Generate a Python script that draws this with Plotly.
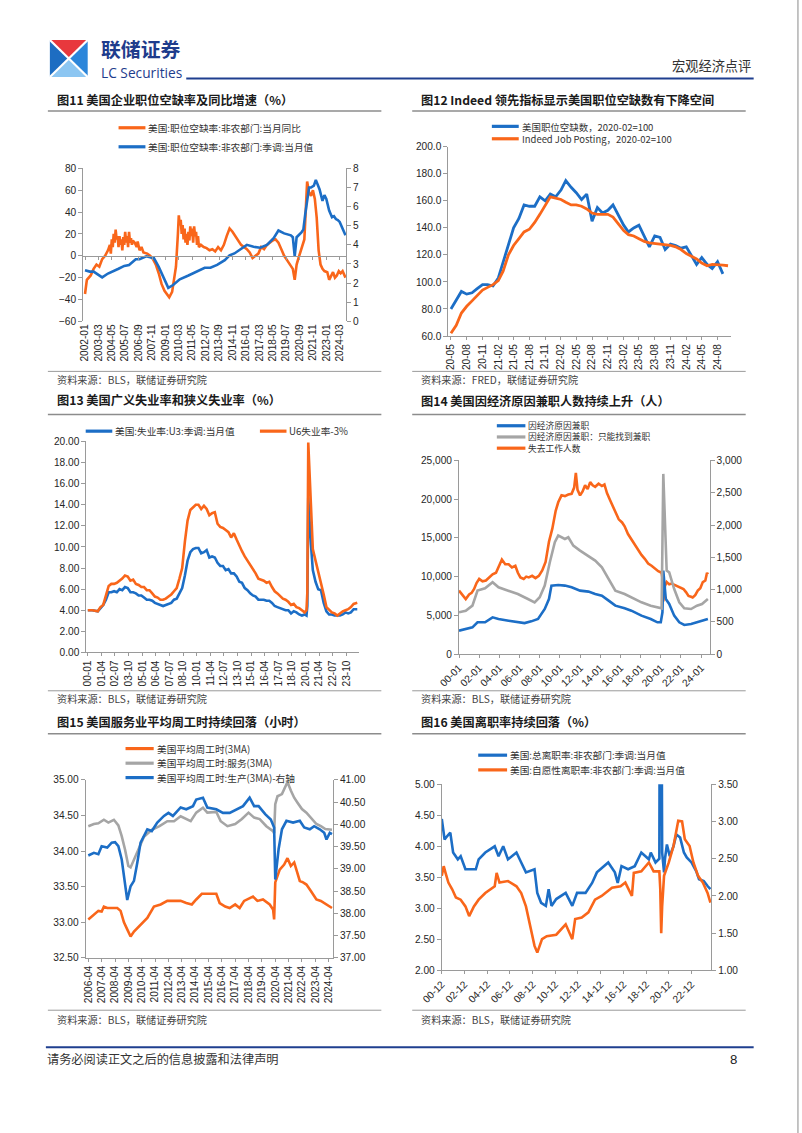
import plotly.graph_objects as go

W, H = 802, 1133
# The rendered page is photographed with a small fixed offset/scale; positions below are
# given in reference-picture pixels and mapped back through that measured transform.
SX, OX = 0.977, 20.0
SY, OY = 0.989, 5.1
FS = 1 / 0.983
def px(x): return ((x - OX) / SX) / W
def py(y): return 1 - ((y - OY) / SY) / H

BLUE = "#1C6EC6"; ORANGE = "#F9661A"; GRAY = "#A5A5A5"
AX = "#9A9A9A"; TXT = "#262626"
NUM = "Liberation Sans, Arial, sans-serif"
CJK = "Noto Sans CJK SC, sans-serif"

# ---------------- 图11 data ----------------
c1_ticks = ["2002-01","2003-03","2004-05","2005-07","2006-09","2007-11","2009-01","2010-03","2011-05","2012-07",
            "2013-09","2014-11","2016-01","2017-03","2018-05","2019-07","2020-09","2021-11","2023-01","2024-03"]
c1o_dates = [
 "2002-01","2002-03","2002-07","2002-10",
 "2003-01","2003-04","2003-07","2003-10",
 "2004-01","2004-03","2004-04","2004-05","2004-06","2004-07","2004-08","2004-09","2004-10","2004-11","2004-12",
 "2005-01","2005-02","2005-03","2005-04","2005-05","2005-06","2005-07","2005-08","2005-09","2005-10","2005-11","2005-12",
 "2006-01","2006-02","2006-03","2006-05","2006-07","2006-08","2006-10","2006-12",
 "2007-02","2007-06","2007-09","2007-12",
 "2008-03","2008-06","2008-09","2008-12",
 "2009-03","2009-05","2009-08","2009-10","2009-12",
 "2010-02","2010-03","2010-04","2010-05","2010-06","2010-07","2010-08","2010-09","2010-10","2010-11","2010-12",
 "2011-01","2011-02","2011-03","2011-04","2011-05","2011-06","2011-07","2011-08","2011-09","2011-10","2011-11","2011-12",
 "2012-02","2012-05","2012-08","2012-11",
 "2013-02","2013-05","2013-08","2013-11",
 "2014-02","2014-05","2014-08","2014-11",
 "2015-02","2015-05","2015-08","2015-11",
 "2016-02","2016-05","2016-08","2016-11",
 "2017-02","2017-05","2017-08","2017-11",
 "2018-02","2018-05","2018-08","2018-11",
 "2019-02","2019-05","2019-08","2019-11",
 "2020-02","2020-04","2020-06","2020-08","2020-10","2020-12",
 "2021-02","2021-04","2021-05","2021-07","2021-09","2021-11",
 "2022-01","2022-03","2022-05","2022-07","2022-09","2022-11",
 "2023-02","2023-04","2023-06","2023-08","2023-10","2023-12",
 "2024-02","2024-04","2024-06","2024-08","2024-09"]
c1o_vals = [
 -35,-22,-18,-12,
 -8,-10,-3,0,
 5,10,2,15,8,20,12,24,15,18,8,
 18,10,15,5,17,10,22,12,18,8,22,12,
 16,10,14,12,8,13,5,8,
 3,2,0,-3,
 -8,-16,-26,-32,
 -36,-38,-33,-22,-10,
 20,37,28,33,20,28,15,25,12,20,10,
 22,14,27,18,25,12,27,18,22,10,18,8,
 10,8,7,5,
 6,4,8,5,
 10,18,25,22,
 18,14,10,8,
 6,3,-2,0,
 2,8,6,10,
 12,14,15,12,
 6,0,-4,-8,
 -12,-22,-8,-2,4,8,
 15,50,68,58,55,60,
 52,35,5,-8,-12,-14,
 -15,-22,-18,-15,-20,-18,
 -14,-16,-14,-18,-20]
c1b_dates = [
 "2002-01","2002-06","2002-10","2003-03","2003-07","2004-01","2004-06","2004-12",
 "2005-06","2005-11","2006-06","2006-10","2007-05","2008-01","2008-06","2008-11",
 "2009-04","2009-09","2010-04","2011-01","2011-10","2012-06","2012-12","2013-07",
 "2014-03","2014-08","2015-01","2015-08","2016-02","2016-09","2017-04","2017-11",
 "2018-06","2018-11","2019-05","2019-12","2020-02","2020-04","2020-06","2020-11",
 "2021-01","2021-03","2021-05","2021-07","2021-09","2021-12",
 "2022-02","2022-04","2022-06","2022-09","2022-11",
 "2023-01","2023-04","2023-07","2023-09","2023-11",
 "2024-01","2024-03","2024-06","2024-08","2024-09"]
c1b_vals = [
 2.67,2.6,2.6,2.45,2.3,2.5,2.6,2.75,
 2.9,2.95,3.25,3.25,3.4,3.3,2.85,2.3,
 1.75,1.9,2.2,2.4,2.6,2.8,2.8,2.95,
 3.2,3.45,3.55,3.8,4.0,3.9,3.85,4.0,
 4.35,4.75,4.6,4.5,4.4,3.4,4.4,4.65,
 4.8,5.6,6.4,7.0,7.0,7.1,
 7.4,7.1,6.9,6.3,6.6,
 6.4,5.8,5.45,5.5,5.35,
 5.3,5.2,4.8,4.6,4.5]

# ---------------- 图12 data ----------------
c2_ticks = ["2020-05","2020-08","2020-11","2021-02","2021-05","2021-08","2021-11","2022-02","2022-05",
            "2022-08","2022-11","2023-02","2023-05","2023-08","2023-11","2024-02","2024-05","2024-08"]
c2_months = [
 "2020-05","2020-06","2020-07","2020-08","2020-09","2020-10","2020-11","2020-12",
 "2021-01","2021-02","2021-03","2021-04","2021-05","2021-06","2021-07","2021-08","2021-09","2021-10","2021-11","2021-12",
 "2022-01","2022-02","2022-03","2022-04","2022-05","2022-06","2022-07","2022-08","2022-09","2022-10","2022-11","2022-12",
 "2023-01","2023-02","2023-03","2023-04","2023-05","2023-06","2023-07","2023-08","2023-09","2023-10","2023-11","2023-12",
 "2024-01","2024-02","2024-03","2024-04","2024-05","2024-06","2024-07","2024-08","2024-09","2024-10"]
c2_openings = [
 80,87,93,91,92,95,98,98,
 97,103,115,128,140,147,157,156,156,163,160,165,
 163,168,175,170,166,161,165,145,155,151,153,157,
 150,142,137,140,142,134,126,134,133,124,128,127,
 125,126,120,113,118,113,110,115,106]
c2_indeed = [
 62,68,77,82,86,90,94,96,
 98,101,108,120,127,132,137,139,144,150,157,163,
 162,161,159,157,157,156,154,151,150,150,150,148,
 143,138,135,134,132,130,129,128.5,128,128,127,126,
 124,121,119,117,114,112,113,113,112.5,112]

# ---------------- 图13 data ----------------
c3_ticks = ["2000-01","2001-04","2002-07","2003-10","2005-01","2006-04","2007-07","2008-10","2010-01","2011-04",
            "2012-07","2013-10","2015-01","2016-04","2017-07","2018-10","2020-01","2021-04","2022-07","2023-10"]
c3_dates = [
 "2000-01","2000-06","2000-12",
 "2001-03","2001-06","2001-09","2001-12",
 "2002-03","2002-06","2002-09","2002-12",
 "2003-03","2003-06","2003-09","2003-12",
 "2004-03","2004-06","2004-09","2004-12",
 "2005-03","2005-06","2005-09","2005-12",
 "2006-03","2006-06","2006-09","2006-12",
 "2007-03","2007-06","2007-09","2007-12",
 "2008-03","2008-06","2008-09","2008-12",
 "2009-03","2009-06","2009-09","2009-12",
 "2010-03","2010-06","2010-09","2010-12",
 "2011-03","2011-06","2011-09","2011-12",
 "2012-03","2012-06","2012-09","2012-12",
 "2013-03","2013-06","2013-09","2013-12",
 "2014-03","2014-06","2014-09","2014-12",
 "2015-03","2015-06","2015-09","2015-12",
 "2016-03","2016-06","2016-09","2016-12",
 "2017-03","2017-06","2017-09","2017-12",
 "2018-03","2018-06","2018-09","2018-12",
 "2019-03","2019-06","2019-09","2019-12",
 "2020-02","2020-03","2020-04","2020-05","2020-06","2020-07","2020-09","2020-12",
 "2021-03","2021-06","2021-09","2021-12",
 "2022-03","2022-06","2022-09","2022-12",
 "2023-03","2023-06","2023-09","2023-12",
 "2024-03","2024-06","2024-10"]
c3_u3 = [
 4.0,4.0,3.9,
 4.2,4.5,5.0,5.7,
 5.7,5.8,5.7,6.0,
 5.9,6.2,6.1,5.7,
 5.7,5.6,5.4,5.4,
 5.2,5.0,5.0,4.9,
 4.7,4.6,4.5,4.4,
 4.5,4.6,4.7,5.0,
 5.1,5.6,6.1,7.3,
 8.7,9.5,9.8,9.9,
 9.9,9.4,9.5,9.7,
 9.0,9.1,9.0,8.5,
 8.2,8.2,7.8,7.9,
 7.5,7.5,7.2,6.7,
 6.6,6.1,5.9,5.6,
 5.4,5.3,5.0,5.0,
 5.0,4.9,4.9,4.7,
 4.4,4.3,4.2,4.1,
 4.0,4.0,3.7,3.9,
 3.8,3.6,3.5,3.6,
 3.5,4.4,14.7,13.2,11.0,10.2,7.8,6.7,
 6.0,5.9,4.7,3.9,
 3.6,3.6,3.5,3.5,
 3.5,3.6,3.8,3.7,
 3.8,4.1,4.1]
c3_u6m3 = [
 4.0,4.0,3.9,
 4.3,4.5,5.3,6.3,
 6.5,6.5,6.6,6.8,
 7.0,7.3,7.2,6.8,
 6.9,6.5,6.4,6.2,
 6.2,5.9,5.9,5.6,
 5.3,5.2,5.0,5.0,
 5.1,5.3,5.5,5.8,
 6.1,7.0,8.0,10.5,
 12.5,13.5,13.8,14.0,
 14.0,13.6,13.9,13.6,
 13.0,13.2,13.3,12.2,
 11.9,11.8,11.6,11.4,
 10.9,11.3,10.7,10.1,
 9.6,9.1,8.7,8.4,
 7.9,7.5,7.0,6.9,
 6.8,6.6,6.7,6.2,
 5.8,5.6,5.3,5.1,
 5.0,4.8,4.5,4.6,
 4.3,4.2,4.0,3.8,
 4.0,5.7,19.9,18.0,15.1,13.5,9.8,8.7,
 7.7,6.8,5.5,4.3,
 4.0,3.8,3.7,3.5,
 3.7,3.9,4.0,4.1,
 4.3,4.6,4.7]

# ---------------- 图14 data ----------------
c4_ticks = ["2000-01","2002-01","2004-01","2006-01","2008-01","2010-01","2012-01",
            "2014-01","2016-01","2018-01","2020-01","2022-01","2024-01"]
c4o_dates = [
 "2000-01","2000-05","2000-09","2001-01","2001-04","2001-07","2001-10","2002-01","2002-05","2002-09",
 "2003-01","2003-05","2003-09","2003-12","2004-04","2004-08","2004-12","2005-04","2005-08","2005-11",
 "2006-02","2006-06","2006-09","2006-12","2007-04","2007-08","2007-12","2008-04","2008-08","2008-12",
 "2009-04","2009-08","2009-11","2010-03","2010-07","2010-11","2011-03","2011-06","2011-08","2011-10",
 "2012-01","2012-04","2012-07","2012-10","2013-01","2013-04","2013-07","2013-11","2014-03","2014-06",
 "2014-09","2015-01","2015-05","2015-08","2015-11","2016-03","2016-06","2016-10","2017-02","2017-06",
 "2017-10","2018-02","2018-06","2018-10","2019-02","2019-06","2019-10","2020-02","2020-03","2020-04",
 "2020-06","2020-08","2020-11","2021-02","2021-06","2021-10","2022-01","2022-04","2022-07","2022-10",
 "2023-01","2023-03","2023-06","2023-09","2023-12","2024-03","2024-06","2024-08","2024-09"]
c4o_vals = [
 8200,7600,7100,7700,7900,8400,9200,9700,9400,9500,
 9900,10300,10500,11200,12200,11600,11600,11200,11400,10500,
 9900,9700,10000,9900,10100,9800,10100,10800,11900,14500,
 16200,18500,19600,20500,20400,20600,20700,21500,23400,21200,
 20500,21000,21800,21300,22200,21800,21600,22000,21700,21900,
 20800,19800,18800,18000,17400,17000,16500,15500,14800,14200,
 13500,12800,12300,11700,11400,11000,10700,10500,9800,6800,
 8800,9300,9000,9100,8900,8800,8600,8400,8000,7500,
 7400,7300,7600,8200,8500,9300,9500,10500,10300]
c4g_dates = [
 "2000-01","2000-09","2001-05","2001-11","2002-08","2003-05","2003-12","2004-12","2005-11","2006-11",
 "2007-07","2008-01","2008-07","2009-01","2009-07","2009-11","2010-07","2010-11","2011-05","2012-01",
 "2012-11","2013-07","2014-03","2014-11","2015-07","2016-06","2017-02","2018-02","2019-01","2019-11",
 "2020-02","2020-04","2020-06","2020-08","2020-11","2021-05","2021-11","2022-05","2023-01","2023-08",
 "2024-02","2024-09"]
c4g_vals = [
 647,672,750,983,1019,1112,1034,983,931,853,
 802,880,1061,1422,1733,1836,1784,1810,1680,1603,
 1524,1448,1344,1164,983,931,880,802,750,724,
 708,2792,1836,1294,1267,1008,802,708,698,750,
 776,853]
c4b_dates = [
 "2000-01","2000-09","2001-05","2001-11","2002-08","2003-05","2003-12","2004-12","2005-11","2006-07",
 "2007-03","2007-11","2008-07","2008-12","2009-03","2009-11","2010-07","2011-03","2012-01","2012-11",
 "2013-07","2014-03","2014-11","2015-07","2016-06","2017-02","2018-02","2019-01","2019-09","2020-01",
 "2020-03","2020-04","2020-07","2020-11","2021-05","2021-11","2022-05","2023-01","2023-08","2024-02",
 "2024-09"]
c4b_vals = [
 3020,3230,3450,4100,4100,4740,4530,4310,4100,4000,
 4220,4530,5820,7110,8840,8920,8840,8620,8190,8060,
 7760,7540,6900,6250,5900,5600,4960,4530,4100,4100,
 5390,10780,7110,6470,4960,4100,3750,3880,4100,4310,
 4530]

# ---------------- 图15 data ----------------
c5_ticks = ["2006-04","2007-04","2008-04","2009-04","2010-04","2011-04","2012-04","2013-04","2014-04","2015-04",
            "2016-04","2017-04","2018-04","2019-04","2020-04","2021-04","2022-04","2023-04","2024-04"]
c5o_dates = [
 "2006-04","2006-09","2007-01","2007-04","2007-06","2007-09","2008-06","2008-09","2008-12","2009-03",
 "2009-06","2009-09","2010-03","2010-09","2011-03","2011-09","2012-03","2013-03","2013-08","2014-01",
 "2014-05","2014-10","2015-11","2016-02","2016-07","2016-11","2017-04","2017-08","2017-12","2018-05",
 "2018-08","2018-12","2019-05","2019-11","2020-02","2020-03","2020-04","2020-08","2020-12","2021-03",
 "2021-06","2021-09","2021-11","2022-02","2022-05","2022-08","2022-12","2023-05","2023-09","2023-12",
 "2024-03","2024-07"]
c5o_vals = [
 33.04,33.11,33.16,33.15,33.22,33.2,33.2,33.16,33.0,32.9,
 32.8,32.87,32.97,33.06,33.22,33.25,33.3,33.3,33.27,33.25,
 33.32,33.4,33.4,33.27,33.22,33.2,33.25,33.2,33.3,33.34,
 33.36,33.3,33.32,33.25,33.18,33.04,33.56,33.74,33.81,33.9,
 33.79,33.84,33.72,33.58,33.56,33.53,33.44,33.32,33.3,33.27,
 33.23,33.2]
c5g_dates = [
 "2006-04","2006-09","2007-01","2007-06","2007-10","2008-03","2008-07","2008-10","2009-01","2009-04",
 "2009-06","2009-09","2009-12","2010-06","2011-01","2011-08","2012-03","2012-09","2013-03","2013-12",
 "2014-05","2014-11","2015-03","2015-11","2016-03","2016-09","2017-04","2017-10","2018-04","2018-09",
 "2019-02","2019-08","2020-02","2020-03","2020-04","2020-06","2020-10","2021-03","2021-06","2021-09",
 "2021-12","2022-04","2022-08","2023-01","2023-05","2023-09","2024-01","2024-07"]
c5g_vals = [
 34.35,34.38,34.39,34.44,34.4,34.44,34.36,34.21,34.02,33.79,
 33.77,33.88,33.99,34.2,34.3,34.35,34.42,34.42,34.49,34.42,
 34.54,34.61,34.54,34.55,34.42,34.35,34.38,34.45,34.54,34.47,
 34.45,34.35,34.28,34.25,34.66,34.77,34.8,34.97,34.85,34.75,
 34.68,34.59,34.54,34.45,34.38,34.35,34.31,34.3]
c5b_dates = [
 "2006-04","2006-09","2007-01","2007-04","2007-09","2008-01","2008-04","2008-07","2008-10","2009-01",
 "2009-03","2009-06","2009-09","2009-12","2010-03","2010-09","2011-01","2011-06","2011-12","2012-04",
 "2012-08","2013-03","2013-08","2014-02","2014-05","2014-11","2015-03","2015-11","2016-05","2016-11",
 "2017-05","2017-11","2018-05","2018-09","2019-01","2019-07","2019-12","2020-03","2020-04","2020-07",
 "2020-10","2021-02","2021-08","2022-02","2022-06","2022-11","2023-03","2023-08","2023-12","2024-02",
 "2024-05","2024-07"]
c5b_vals = [
 39.3,39.36,39.33,39.51,39.48,39.59,39.6,39.51,39.21,38.69,
 38.3,38.61,38.73,39.14,39.59,39.89,39.85,40.04,40.19,40.26,
 40.19,40.38,40.34,40.41,40.56,40.6,40.38,40.34,40.26,40.26,
 40.34,40.41,40.6,40.41,40.41,40.23,40.11,39.93,38.76,39.44,
 39.89,40.08,40.04,40.08,39.93,39.89,39.96,39.89,39.81,39.66,
 39.81,39.78]

# ---------------- 图16 data ----------------
c6_ticks = ["2000-12","2002-12","2004-12","2006-12","2008-12","2010-12","2012-12",
            "2014-12","2016-12","2018-12","2020-12","2022-12"]
c6b_dates = [
 "2000-12","2001-03","2001-06","2001-09","2001-12","2002-02","2002-05","2002-08","2003-01","2003-12",
 "2004-03","2004-10","2005-08","2005-12","2006-05","2006-10","2007-07","2007-12","2008-05","2009-02",
 "2009-05","2009-09","2010-02","2010-05","2010-08","2011-01","2011-11","2012-06","2012-11","2013-08",
 "2014-03","2014-08","2015-03","2015-08","2016-03","2016-06","2016-10","2017-05","2017-12","2018-07",
 "2019-03","2019-05","2019-10","2020-02","2020-03","2020-04","2020-05","2020-07","2020-08","2020-10",
 "2021-01","2021-05","2021-08","2021-12","2022-04","2022-07","2022-12","2023-05","2023-08","2024-01",
 "2024-05","2024-08"]
c6b_vals = [
 4.44,4.11,4.17,4.22,3.9,3.85,3.79,3.84,3.63,3.63,
 3.79,3.9,4.0,3.84,4.0,3.79,3.9,3.74,3.58,3.63,
 3.25,3.09,3.04,3.31,3.04,3.15,3.25,3.04,3.25,3.25,
 3.41,3.58,3.68,3.74,3.58,3.41,3.68,3.63,3.68,3.9,
 3.79,3.9,3.74,3.8,10.0,8.0,3.9,3.58,3.8,4.03,
 3.84,4.0,4.19,4.14,3.9,3.82,3.74,3.6,3.47,3.44,
 3.36,3.31]
c6o_dates = [
 "2000-12","2001-02","2001-04","2001-07","2001-11","2002-03","2002-08","2003-01","2003-05","2003-10",
 "2004-03","2004-10","2005-08","2005-10","2006-01","2006-10","2007-07","2007-12","2008-05","2008-09",
 "2009-02","2009-05","2009-10","2010-03","2011-01","2011-11","2012-06","2012-09","2013-04","2013-11",
 "2014-06","2015-01","2015-12","2016-09","2017-02","2017-09","2017-11","2018-07","2019-03","2019-08",
 "2020-02","2020-03","2020-04","2020-05","2020-07","2020-12","2021-05","2021-10","2022-02","2022-05",
 "2022-10","2023-02","2023-07","2023-12","2024-05","2024-08"]
c6o_vals = [
 2.27,2.4,2.31,2.18,2.09,1.98,1.95,1.86,1.73,1.86,
 1.95,2.04,2.13,2.31,2.18,2.2,2.13,2.04,1.86,1.64,
 1.33,1.24,1.42,1.46,1.48,1.62,1.42,1.69,1.71,1.78,
 1.95,2.0,2.11,2.13,2.18,2.0,2.31,2.33,2.45,2.33,
 2.33,2.1,1.5,1.86,2.27,2.45,2.67,3.01,3.0,2.76,
 2.67,2.45,2.27,2.18,2.04,1.91]

# ---------------- figure ----------------
fig = go.Figure()
def add(xs, ys, color, xa, ya, width=2.6):
    fig.add_trace(go.Scatter(x=xs, y=ys, mode="lines", line=dict(color=color, width=width),
                             xaxis=xa, yaxis=ya, showlegend=False, hoverinfo="skip"))

add(c1o_dates, c1o_vals, ORANGE, "x", "y")
add(c1b_dates, c1b_vals, BLUE, "x", "y2")
fig.add_trace(go.Scatter(x=[None], y=[None], xaxis="x7", yaxis="y", showlegend=False, hoverinfo="skip"))
add(c2_months[:len(c2_openings)], c2_openings, BLUE, "x2", "y3", 2.8)
add(c2_months, c2_indeed, ORANGE, "x2", "y3", 2.8)
add(c3_dates, c3_u3, BLUE, "x3", "y4")
add(c3_dates, c3_u6m3, ORANGE, "x3", "y4")
add(c4o_dates, c4o_vals, ORANGE, "x4", "y5")
add(c4g_dates, c4g_vals, GRAY, "x4", "y6")
add(c4b_dates, c4b_vals, BLUE, "x4", "y5")
add(c5o_dates, c5o_vals, ORANGE, "x5", "y7")
add(c5g_dates, c5g_vals, GRAY, "x5", "y7")
add(c5b_dates, c5b_vals, BLUE, "x5", "y8")
add(c6b_dates, c6b_vals, BLUE, "x6", "y9")
add(c6o_dates, c6o_vals, ORANGE, "x6", "y10")

tickfont = dict(family=NUM, size=10 * FS, color=TXT)

def xax(x0, x1, anchor, rng, ticks, text, angle, line=True):
    return dict(domain=[px(x0), px(x1)], anchor=anchor, type="date", range=rng,
                tickmode="array", tickvals=ticks, ticktext=text, tickangle=angle,
                showline=line, linecolor=AX, linewidth=1, ticks="outside" if line else "",
                ticklen=3, tickcolor=AX, showgrid=False, zeroline=False, tickfont=tickfont)

def yax(ytop, ybot, anchor, rng, dtick, fmt, side="left", overlay=None):
    d = dict(anchor=anchor, range=rng, dtick=dtick, tick0=rng[0], tickformat=fmt, side=side,
             showline=True, linecolor=AX, linewidth=1, ticks="outside", ticklen=4, tickcolor=AX,
             showgrid=False, zeroline=False, tickfont=tickfont)
    if overlay:
        d["overlaying"] = overlay
    else:
        d["domain"] = [py(ybot), py(ytop)]
    return d

c1_rng = ["2001-11-05", "2024-09-18"]
layout = dict(
    width=W, height=H, margin=dict(l=0, r=0, t=0, b=0), autosize=False,
    paper_bgcolor="white", plot_bgcolor="white",
    xaxis=xax(82.5, 346.5, "y", c1_rng, c1_ticks, c1_ticks, -90, line=False),
    xaxis7=dict(domain=[px(82.5), px(346.5)], overlaying="x", anchor="free", position=py(255.6),
                type="date", range=c1_rng, tickmode="array", tickvals=c1_ticks, showticklabels=False,
                showline=True, linecolor=AX, ticks="outside", ticklen=3, tickcolor=AX, showgrid=False),
    yaxis=yax(168.3, 321, "x", [-60, 80], 20, "d"),
    yaxis2=yax(0, 0, "x", [0, 8], 1, "d", side="right", overlay="y"),
    xaxis2=xax(449.3, 733, "y3", ["2020-04-16", "2024-10-17"], c2_ticks, [t[2:] for t in c2_ticks], -90),
    yaxis3=yax(146.7, 335.7, "x2", [60, 200], 20, ".1f"),
    xaxis3=xax(85.7, 359.3, "y4", ["1999-11-15", "2024-11-20"], c3_ticks, [t[2:] for t in c3_ticks], -90),
    yaxis4=yax(441, 651.7, "x3", [0, 20], 2, ".2f"),
    xaxis4=xax(460, 711.7, "y5", ["2000-01-01", "2024-11-01"], c4_ticks, [t[2:] for t in c4_ticks], -45),
    yaxis5=yax(460, 653.3, "x4", [0, 25000], 5000, ",d"),
    yaxis6=yax(0, 0, "x4", [0, 3000], 500, ",d", side="right", overlay="y5"),
    xaxis5=xax(85, 333.3, "y7", ["2006-01-20", "2024-07-25"], c5_ticks, c5_ticks, -90),
    yaxis7=yax(779, 956.7, "x5", [32.5, 35], 0.5, ".2f"),
    yaxis8=yax(0, 0, "x5", [37, 41], 0.5, ".2f", side="right", overlay="y7"),
    xaxis6=xax(442.7, 713.3, "y9", ["2000-12-01", "2024-08-25"], c6_ticks, [t[2:] for t in c6_ticks], -45),
    yaxis9=yax(783.3, 969.3, "x6", [2, 5], 0.5, ".2f"),
    yaxis10=yax(0, 0, "x6", [1, 3.5], 0.5, ".2f", side="right", overlay="y9"),
)
fig.update_layout(**layout)

shapes = []
annots = []
def line(x0, y0, x1, y1, color, width):
    shapes.append(dict(type="line", xref="paper", yref="paper", x0=px(x0), y0=py(y0), x1=px(x1), y1=py(y1),
                       line=dict(color=color, width=width)))
def text(x, y, s, size, color=TXT, family=CJK, anchor="left"):
    annots.append(dict(xref="paper", yref="paper", x=px(x), y=py(y), text=s, showarrow=False,
                       xanchor=anchor, yanchor="middle", borderpad=0, align="left",
                       font=dict(family=family, size=size * FS, color=color)))
def legend(x0, x1, y, color, s):
    line(x0, y, x1, y, color, 3.2)
    text(x1 + 2, y, s, 9.5, "#333333")
def legend_block(x0, x1, yc, step, colors, labels, size):
    n = len(colors)
    for i, c in enumerate(colors):
        yy = yc + (i - (n - 1) / 2) * step
        line(x0, yy, x1, yy, c, 3.2)
    text(x1 + 2, yc, "<br>".join(labels), size, "#333333")
def tri(pts, color):
    p = "M " + " L ".join(f"{px(a):.5f},{py(b):.5f}" for a, b in pts) + " Z"
    shapes.append(dict(type="path", xref="paper", yref="paper", path=p, fillcolor=color, line=dict(width=0)))

# page border (right edge)
line(800.5, 0, 800.5, H, "#8a8a8a", 1)

# header
cx, cy = 68, 58.5
tri([(49, 40), (87, 40), (cx, cy)], "#E8383D")
tri([(49, 40), (49, 77), (cx, cy)], "#1D6DC2")
tri([(87, 40), (87, 77), (cx, cy)], "#2C86DA")
tri([(49, 77), (87, 77), (cx, cy)], "#8CC6F2")
line(49, 40, 87, 77, "white", 2.2)
line(87, 40, 49, 77, "white", 2.2)
text(99, 49, "<b>联储证券</b>", 19.5, "#1E3C8C")
text(99, 73, "LC Securities", 13.5, "#1E3C8C", family="Open Sans, Liberation Sans, sans-serif")
line(186, 78.5, 756, 78.5, "#1F3F8F", 2)
text(754, 66, "宏观经济点评", 13, "#333333", anchor="right")

# footer
line(45, 1046, 756, 1046, "#1F3F8F", 2)
text(45, 1058, "请务必阅读正文之后的信息披露和法律声明", 12, "#333333")
text(736, 1058, "8", 13, "#222222", family=NUM, anchor="center")

# chart frames: titles, rules, sources
titles = [
    (55, 100, "图11 美国企业职位空缺率及同比增速（%）"),
    (421, 100, "图12 Indeed 领先指标显示美国职位空缺数有下降空间"),
    (55, 400, "图13 美国广义失业率和狭义失业率（%）"),
    (421, 401, "图14 美国因经济原因兼职人数持续上升（人）"),
    (55, 721, "图15 美国服务业平均周工时持续回落（小时）"),
    (421, 721, "图16 美国离职率持续回落（%）"),
]
for x, y, s in titles:
    text(x, y, "<b>" + s + "</b>", 12, "#1a1a1a")
for y in (111, 414, 733):
    line(47, y, 382, y, "#8c8c8c", 1.5)
    line(413, y, 748, y, "#8c8c8c", 1.5)
for y in (371, 690, 1009):
    line(47, y, 382, y, "#9a9a9a", 1)
    line(413, y, 748, y, "#9a9a9a", 1)
sources = [(55, 379, "BLS"), (421, 379, "FRED"), (55, 698, "BLS"), (421, 698, "BLS"), (55, 1018, "BLS"), (421, 1018, "BLS")]
for x, y, s in sources:
    text(x, y, "资料来源：" + s + "，联储证券研究院", 10, "#444444")

# legends
legend(118, 145, 127.7, ORANGE, "美国:职位空缺率:非农部门:当月同比")
legend(118, 145, 146.7, BLUE, "美国:职位空缺率:非农部门:季调:当月值")
legend_block(493, 520, 132.5, 12.4, [BLUE, ORANGE],
             ["美国职位空缺数，2020-02=100", "Indeed Job Posting，2020-02=100"], 9.3)
legend(85, 111.7, 430.7, BLUE, "美国:失业率:U3:季调:当月值")
legend(260, 286.7, 430.7, ORANGE, "U6失业率-3%")
legend_block(498, 526.7, 436.5, 11.2, [BLUE, GRAY, ORANGE],
             ["因经济原因兼职", "因经济原因兼职：只能找到兼职", "失去工作人数"], 8.6)
legend(125, 153.3, 747.7, ORANGE, "美国平均周工时(3MA)")
legend(125, 153.3, 762.3, GRAY, "美国平均周工时:服务(3MA)")
legend(125, 153.3, 776.7, BLUE, "美国平均周工时:生产(3MA)-右轴")
legend(479.3, 508.3, 754.3, BLUE, "美国:总离职率:非农部门:季调:当月值")
legend(479.3, 508.3, 769, ORANGE, "美国:自愿性离职率:非农部门:季调:当月值")

fig.update_layout(shapes=shapes, annotations=annots)

fig.write_html("out.html", config={"displayModeBar": False, "responsive": False},
               post_script="document.body.style.margin='0';document.body.style.overflow='hidden';")
